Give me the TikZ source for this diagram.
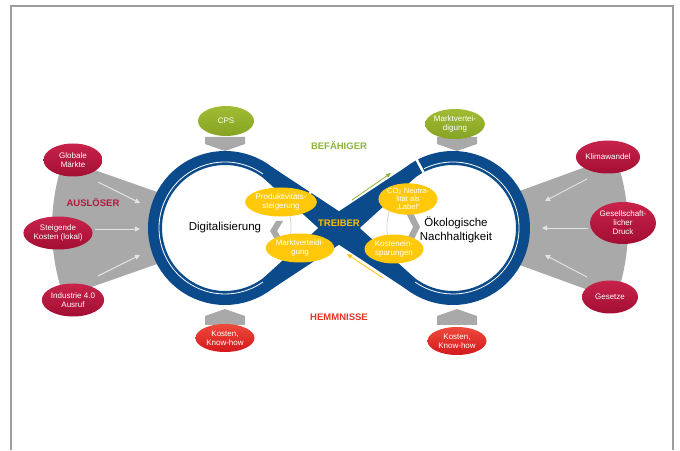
\documentclass[tikz,border=0pt]{standalone}
\usepackage{fontspec}
\setmainfont{Liberation Sans}
\usetikzlibrary{shapes.geometric,arrows.meta,calc,positioning}
\definecolor{loopblue}{HTML}{0B4A8B}
\definecolor{fangray}{HTML}{A9A9A9}
\definecolor{ringgray}{HTML}{D4D4D4}
\definecolor{arrowgray}{HTML}{E4E4E4}
\definecolor{framegray}{HTML}{9C9C9C}
\definecolor{wineTop}{HTML}{C8234B}
\definecolor{wineBot}{HTML}{A30E32}
\definecolor{wine}{HTML}{B5173D}
\definecolor{leafTop}{HTML}{A0BC34}
\definecolor{leafBot}{HTML}{86A423}
\definecolor{leaf}{HTML}{8DB339}
\definecolor{alarmTop}{HTML}{EE4A3C}
\definecolor{alarmBot}{HTML}{D3181C}
\definecolor{alarm}{HTML}{E5332A}
\definecolor{gold}{HTML}{FFC90A}
\definecolor{goldtext}{HTML}{FFC000}

\begin{document}
\begin{tikzpicture}[x=1pt, y=1pt,
    blob/.style={ellipse, inner sep=0pt, align=center, text=white,
        font=\fontsize{8}{9}\selectfont},
    cause/.style={blob, top color=wineTop, bottom color=wineBot,
        minimum width=59, minimum height=33},
    enabler/.style={blob, top color=leafTop, bottom color=leafBot,
        minimum width=56, minimum height=30},
    barrier/.style={blob, top color=alarmTop, bottom color=alarmBot,
        minimum width=59, minimum height=28},
    spark/.style={blob, fill=gold, minimum width=59, minimum height=29},
    headline/.style={font=\bfseries\fontsize{9.5}{11}\selectfont},
    bigtext/.style={font=\fontsize{11.5}{14}\selectfont, align=center},
    band/.style={draw=loopblue, line width=14},
    seam/.style={draw=white, line width=0.8},
    gapline/.style={draw=white, line width=2.5},
    push/.style={draw=arrowgray, line width=0.9, -{Triangle[length=5pt,width=5pt]}},
    chev/.style={fill=fangray}
]
\useasboundingbox (0,0) rectangle (680,450);
% frame
\draw[framegray, line width=1.2] (11,0) -- (11,444) -- (673,444) -- (673,0);

\coordinate (CL) at (225,222);
\coordinate (CR) at (453,222);
\coordinate (XC) at (339,222);
\coordinate (apL) at (260,222);
\coordinate (apR) at (418,222);

% fans behind the loops
\fill[fangray] (apL) -- ++(160.7:208) arc[start angle=160.7, end angle=199.3, radius=208] -- cycle;
\fill[fangray] (apR) -- ++(-20:210) arc[start angle=-20, end angle=20, radius=210] -- cycle;
\fill[white] (CL) circle[radius=70] (CR) circle[radius=70];
\draw[ringgray, line width=0.8] (CL) circle[radius=66] (CR) circle[radius=66];

% infinity band
\coordinate (tLU) at ($(CL)+(52.1:70)$);
\coordinate (tLD) at ($(CL)+(-52.1:70)$);
\coordinate (tRU) at ($(CR)+(127.9:70)$);
\coordinate (tRD) at ($(CR)+(-127.9:70)$);
\draw[band] (tLU) arc[start angle=52.1, end angle=307.9, radius=70]
    -- (tRU) arc[start angle=127.9, end angle=-127.9, radius=70] -- cycle;
% wider cross in the middle
\fill[loopblue] ($(tLU)!7pt!90:(tRD)$) -- ($(XC)!14pt!90:(tRD)$) -- ($(tRD)!7pt!-90:(tLU)$)
    -- ($(tRD)!7pt!90:(tLU)$) -- ($(XC)!14pt!-90:(tRD)$) -- ($(tLU)!7pt!-90:(tRD)$) -- cycle;
\fill[loopblue] ($(tLD)!7pt!90:(tRU)$) -- ($(XC)!14pt!90:(tRU)$) -- ($(tRU)!7pt!-90:(tLD)$)
    -- ($(tRU)!7pt!90:(tLD)$) -- ($(XC)!14pt!-90:(tRU)$) -- ($(tLD)!7pt!-90:(tRU)$) -- cycle;
\draw[seam] ($(CL)+(55:66)$) arc[start angle=55, end angle=305, radius=66];
\draw[seam] ($(CR)+(116:66)$) arc[start angle=116, end angle=-125, radius=66];
\coordinate (g1) at ($(tLU)!0.2535!(tRD)$);
\draw[gapline] ($(g1)!14pt!90:(tRD)$) -- ($(g1)!14pt!-90:(tRD)$);
\draw[gapline] ($(CR)+(118:61)$) -- ($(CR)+(118:79)$);

% chevrons
\foreach \cx in {225,457} {
    \fill[chev] (\cx-20,313) -- (\cx+20,313) -- (\cx+20,306) -- (\cx,299) -- (\cx-20,306) -- cycle;
    \fill[chev] (\cx-20,125) -- (\cx+20,125) -- (\cx+20,134) -- (\cx,141) -- (\cx-20,134) -- cycle;
}
\fill[chev] (276,229) -- (283,229) -- (277,219) -- (283,209) -- (276,209) -- (270,219) -- cycle;
\fill[chev] (406,237) -- (413,237) -- (420,223) -- (413,209) -- (406,209) -- (413,223) -- cycle;

% side arrows
\foreach \i/\ax/\ay/\bx/\by in {1/98/268/140/247, 2/95/221/140/221, 3/98/174/140/195} {
    \coordinate (ls\i) at (\ax,\ay);
    \coordinate (le\i) at (\bx,\by);
    \draw[push] (ls\i) -- (le\i);
}
\foreach \i/\ax/\ay/\bx/\by in {1/587/271/545/249, 2/588/222/542/222, 3/587/173/545/195} {
    \coordinate (rs\i) at (\ax,\ay);
    \coordinate (re\i) at (\bx,\by);
    \draw[push] (rs\i) -- (re\i);
}

% outer ellipses
\node[cause] (glob) at (73,290) {Globale\\Märkte};
\node[cause] (steig) at (58,217) {Steigende\\Kosten (lokal)};
\node[cause] (indu) at (73,150) {Industrie 4.0\\Ausruf};
\node[cause] (klima) at (608,293) {Klimawandel};
\node[cause, minimum width=52, minimum height=42] (druck) at (623,227) {Gesellschaft-\\licher\\Druck};
\node[cause, minimum width=56] (gesetz) at (610,153) {Gesetze};
\node[enabler] (cps) at (226,329) {CPS};
\node[enabler, minimum width=52] (mvg) at (455,326) {Marktvertei-\\digung};
\node[barrier] (kostL) at (225,112) {Kosten,\\Know-how};
\node[barrier] (kostR) at (457,109) {Kosten,\\Know-how};

% inner ellipses
\node[spark] (prod) at (281,248) {Produktivitäts-\\steigerung};
\node[spark] (mvy) at (300,202) {Marktverteidi-\\gung};
\node[spark, font=\fontsize{7.5}{8}\selectfont] (co2) at (408,251) {CO\textsubscript{2} Neutra-\\lität als\\„Label“};
\node[spark] (spar) at (394,201) {Kostenein-\\sparungen};

% labels
\node[headline, text=wine] (ausl) at (93,248) {AUSLÖSER};
\node[headline, text=leaf] (bef) at (339,305) {BEFÄHIGER};
\node[headline, text=alarm] (hemm) at (339,133) {HEMMNISSE};
\node[headline, text=goldtext] (treib) at (339,227) {TREIBER};
\node[bigtext] (digi) at (225,222) {Digitalisierung};
\node[bigtext] (oeko) at (456,220) {Ökologische\\Nachhaltigkeit};

% driver arrows
\coordinate (gs) at (352,250);
\coordinate (ge) at (391,277);
\draw[leaf, line width=0.8, -{Triangle[length=5pt,width=4pt]}] (gs) -- (ge);
\coordinate (ys) at (383,172);
\coordinate (ye) at (347,196);
\draw[goldtext, line width=0.8, -{Triangle[length=5pt,width=4pt]}] (ys) -- (ye);
\end{tikzpicture}
\end{document}
